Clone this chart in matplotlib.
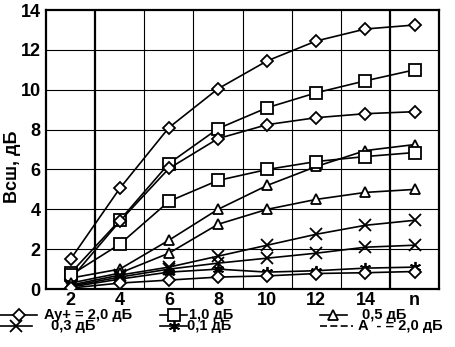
import matplotlib
matplotlib.use("Agg")
import matplotlib.pyplot as plt
from matplotlib.lines import Line2D

plt.rcParams['font.family'] = ['Liberation Sans', 'DejaVu Sans']
plt.rcParams['font.weight'] = 'bold'

x_vals = [2, 4, 6, 8, 10, 12, 14, 16]
x_ticklabels = ['2', '4', '6', '8', '10', '12', '14', 'n']

dia_top = [1.5, 5.05, 8.1, 10.05, 11.45, 12.45, 13.05, 13.25]
sq_top = [0.8, 3.45, 6.3, 8.05, 9.1, 9.85, 10.45, 11.0]
dia_mid = [0.5, 3.4, 6.05, 7.55, 8.25, 8.6, 8.8, 8.9]
tri_top = [0.55, 1.0, 2.45, 4.0, 5.2, 6.15, 6.95, 7.25]
sq_low = [0.7, 2.25, 4.4, 5.45, 6.0, 6.4, 6.65, 6.85]
tri_low = [0.3, 0.8, 1.8, 3.25, 4.0, 4.5, 4.85, 5.0]
x_top = [0.2, 0.7, 1.1, 1.65, 2.2, 2.75, 3.2, 3.45]
x_low = [0.15, 0.6, 1.0, 1.3, 1.55, 1.8, 2.1, 2.2]
star = [0.1, 0.5, 0.85, 1.0, 0.85, 0.92, 1.05, 1.1]
dia_low = [0.05, 0.3, 0.45, 0.6, 0.66, 0.78, 0.82, 0.88]

STAR = (6, 2, 0)
series = [
    (dia_top, 'D', 6), (sq_top, 's', 8.5), (dia_mid, 'D', 6),
    (tri_top, '^', 7), (sq_low, 's', 8.5), (tri_low, '^', 7),
    (x_top, 'x', 8), (x_low, 'x', 8), (star, STAR, 8), (dia_low, 'D', 6),
]

fig = plt.figure(figsize=(4.56, 3.47), dpi=100)
ax = fig.add_axes([0.101, 0.167, 0.862, 0.804])

for ys, mk, ms in series:
    ax.plot(x_vals, ys, color='black', lw=1.2, marker=mk, ms=ms,
            mfc='white', mec='black', mew=1.3, zorder=3)

ax.set_xlim(1, 17)
ax.set_ylim(0, 14)
ax.set_xticks(x_vals)
ax.set_xticklabels(x_ticklabels)
ax.set_yticks(range(0, 15, 2))
ax.tick_params(axis='y', length=0, labelsize=13, pad=4)
ax.tick_params(axis='x', length=0, labelsize=13, pad=2)
for lbl in ax.get_xticklabels() + ax.get_yticklabels():
    lbl.set_fontweight('bold')

# grid: vertical lines at odd x, horizontal at even y
for gx in range(3, 16, 2):
    ax.axvline(gx, color='black', lw=1.6 if gx in (3, 15) else 0.8, zorder=1)
for gy in range(2, 14, 2):
    ax.axhline(gy, color='black', lw=0.8, zorder=1)
for sp in ax.spines.values():
    sp.set_linewidth(1.6)

fig.text(0.028, 0.52, 'Bсш, дБ', rotation=90, ha='center', va='center',
         fontsize=13, fontweight='bold')

# legend built by hand (three columns, two rows)
legend_items = [
    ('D', 6, '-', 'Ay+ = 2,0 дБ', 0.0, 0.082, 0.096),
    ('s', 8.5, '-', '1,0 дБ', 0.351, 0.41, 0.415),
    ('^', 7, '-', '0,5 дБ', 0.702, 0.76, 0.793),
    ('x', 8, '-', '0,3 дБ', 0.0, 0.07, 0.112),
    (STAR, 8, '-', '0,1 дБ', 0.351, 0.41, 0.41),
    (None, 0, (0, (4.2, 2)), 'A  - = 2,0 дБ', 0.702, 0.775, 0.785),
]
rows_y = [0.092, 0.06]
for i, (mk, ms, ls, label, x0, x1, tx) in enumerate(legend_items):
    yy = rows_y[i // 3]
    fig.add_artist(Line2D([x0, x1], [yy, yy], color='black', lw=1.2, ls=ls,
                          transform=fig.transFigure))
    if mk is not None:
        fig.add_artist(Line2D([(x0 + x1) / 2], [yy], marker=mk, ms=ms,
                              mfc='white', mec='black', mew=1.3, color='black',
                              transform=fig.transFigure))
    fig.text(tx, yy, label, ha='left', va='center', fontsize=10.5,
             fontweight='bold')

fig.savefig('out.png', dpi=100)
